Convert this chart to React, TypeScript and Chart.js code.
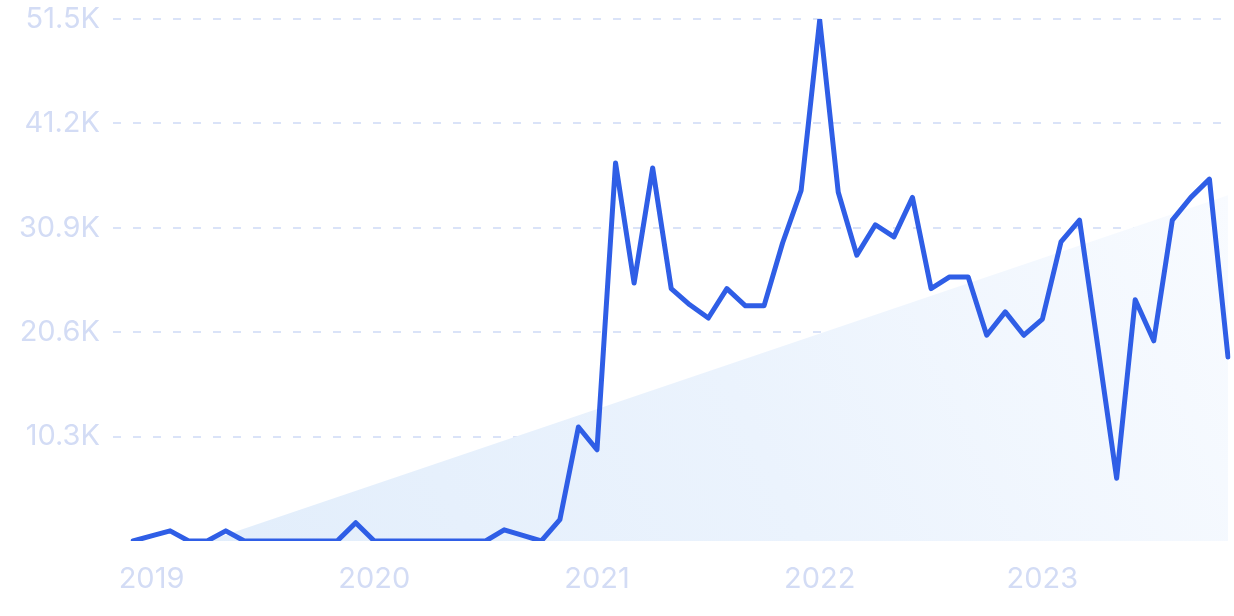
import React, { useEffect, useRef } from "react";
import { Chart, registerables } from "chart.js";

Chart.register(...registerables);

// Monthly categories, Dec 2018 .. Nov 2023
const startYear = 2018;
const startMonth = 12;
const monthCount = 60;
const months: string[] = [];
for (let i = 0; i < monthCount; i++) {
  const m = ((startMonth - 1 + i) % 12) + 1;
  const y = startYear + Math.floor((startMonth - 1 + i) / 12);
  months.push(`${y}-${String(m).padStart(2, "0")}`);
}

const yearTickLabels = ["2019", "2020", "2021", "2022", "2023"];

const searchVolume = [
  0, 500, 1000, 0, 0, 1000, 0, 0, 0, 0, 0, 0, 1800, 0, 0, 0, 0, 0, 0, 0,
  1100, 550, 0, 2100, 11250, 9000, 37300, 25450, 36800, 24900, 23300, 22000,
  24900, 23200, 23200, 29400, 34600, 51400, 34400, 28200, 31200, 30000, 33900,
  24900, 26050, 26050, 20300, 22600, 20300, 21900, 29500, 31650, 19000, 6200,
  23800, 19750, 31650, 33900, 35700, 18150,
];

const trendStart = -2500;
const trendEnd = 34100;

const yTickValues = [0, 10300, 20600, 30900, 41200, 51500];

export default function App() {
  const ref = useRef<HTMLCanvasElement | null>(null);

  useEffect(() => {
    if (!ref.current) return;
    const labelColor = "#d3dcf5";
    const gridColor = "#dae3f8";
    const chart = new Chart(ref.current, {
      type: "line",
      data: {
        labels: months,
        datasets: [
          {
            label: "Volume",
            data: searchVolume,
            borderColor: "#2f5ee6",
            borderWidth: 5,
            pointRadius: 0,
            tension: 0,
            borderJoinStyle: "round",
            borderCapStyle: "round",
            fill: false,
            order: 0,
          },
          {
            label: "Trend",
            data: [
              { x: months[0], y: trendStart },
              { x: months[months.length - 1], y: trendEnd },
            ] as any,
            borderColor: "rgba(0,0,0,0)",
            borderWidth: 0,
            pointRadius: 0,
            fill: "origin",
            backgroundColor: (ctx: any) => {
              const ca = ctx.chart.chartArea;
              if (!ca) return "rgba(227,238,251,1)";
              const g = ctx.chart.ctx.createLinearGradient(ca.left, ca.bottom, ca.right, ca.top);
              g.addColorStop(0, "#e1edfb");
              g.addColorStop(0.5, "#ebf3fd");
              g.addColorStop(1, "#fafcff");
              return g;
            },
            order: 1,
          },
        ],
      },
      options: {
        animation: false,
        responsive: true,
        maintainAspectRatio: false,
        layout: { padding: { top: 19, right: 6, left: 0, bottom: 0 } },
        plugins: {
          legend: { display: false },
          tooltip: { enabled: false },
        },
        scales: {
          x: {
            type: "category",
            offset: false,
            grid: { display: false, drawTicks: false },
            border: { display: false },
            afterFit: (scale: any) => {
              scale.paddingLeft = 0;
              scale.paddingRight = 0;
              scale.height = 75;
            },
            ticks: {
              autoSkip: false,
              maxRotation: 0,
              padding: 21,
              color: labelColor,
              font: { family: "Inter", size: 29 },
              callback: (_v: any, i: number) => {
                const lab = months[i];
                if (lab && lab.endsWith("-01")) {
                  const y = lab.slice(0, 4);
                  return yearTickLabels.includes(y) ? y : "";
                }
                return "";
              },
            },
          },
          y: {
            min: 0,
            max: 51500,
            afterBuildTicks: (scale: any) => {
              scale.ticks = yTickValues.map((v) => ({ value: v }));
            },
            afterFit: (scale: any) => {
              scale.width = 133;
              scale.paddingTop = 0;
              scale.paddingBottom = 0;
            },
            grid: {
              drawTicks: true,
              tickLength: 20,
              color: (ctx: any) => (ctx.tick && ctx.tick.value === 0 ? "rgba(0,0,0,0)" : gridColor),
              tickColor: (ctx: any) => (ctx.tick && ctx.tick.value === 0 ? "rgba(0,0,0,0)" : gridColor),
              lineWidth: 2,
              tickWidth: 2,
              tickBorderDash: [8, 12],
            },
            border: { display: false, dash: [8, 12] },
            ticks: {
              padding: 13,
              color: labelColor,
              font: { family: "Inter", size: 29 },
              callback: (v: any) => (Number(v) === 0 ? "" : (Number(v) / 1000).toFixed(1) + "K"),
            },
          },
        },
      },
    });
    return () => chart.destroy();
  }, []);

  return (
    <div style={{ position: "fixed", left: 0, top: 0, width: 1234, height: 616, background: "#fff" }}>
      <canvas ref={ref} />
    </div>
  );
}
